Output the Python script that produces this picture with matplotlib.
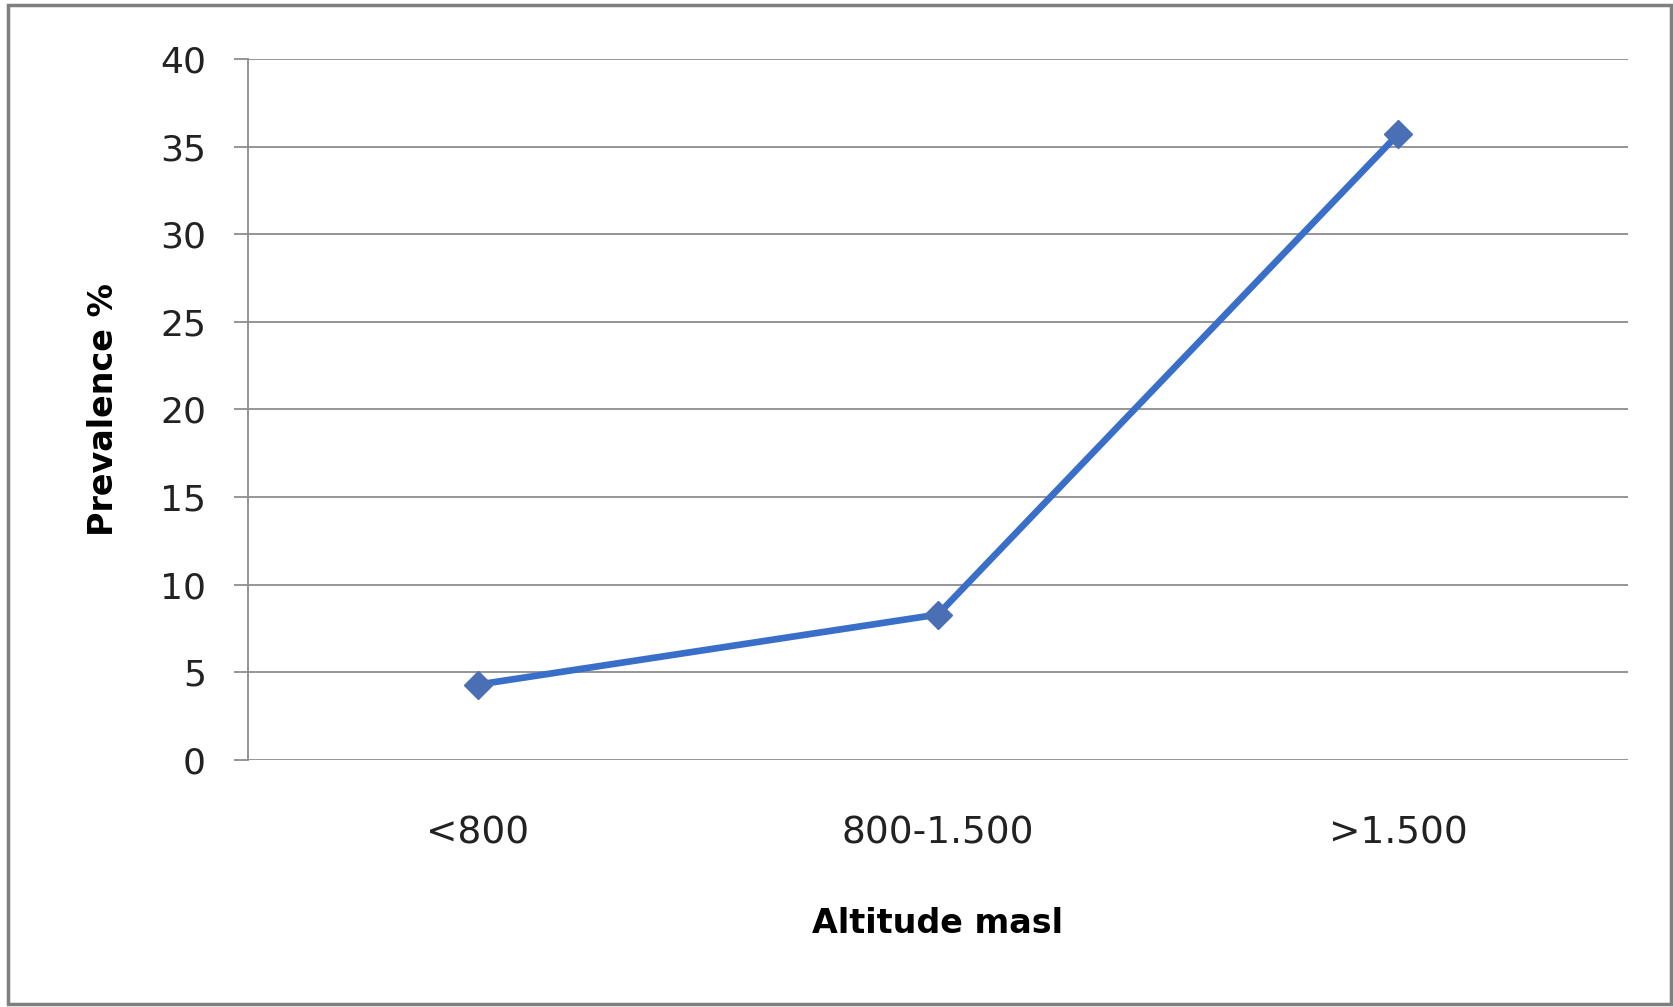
import matplotlib
matplotlib.use("Agg")
import matplotlib.pyplot as plt
from matplotlib.patches import Rectangle

# --- Data ---
altitude = ["<800", "800-1.500", ">1.500"]
prevalence = [4.3, 8.3, 35.7]
y_ticks = [0, 5, 10, 15, 20, 25, 30, 35, 40]

fig = plt.figure(figsize=(16.74, 10.07), dpi=100)
ax = fig.add_axes([0.148, 0.2453, 0.8245, 0.6961])

# grid lines
for t in y_ticks:
    ax.axhline(t, color="#8c8c8c", lw=1.3, zorder=1)

x = list(range(len(altitude)))
ax.plot(x, prevalence, color="#3a6fc9", lw=4.8, marker="D", markersize=14,
        markerfacecolor="#4a6fb5", markeredgecolor="#4a6fb5", zorder=3)

ax.set_xlim(-0.5, 2.5)
ax.set_ylim(0, 40)
ax.set_yticks(y_ticks)
ax.set_xticks(x)
ax.set_xticklabels(altitude)

for side in ["top", "right", "bottom"]:
    ax.spines[side].set_visible(False)
ax.spines["left"].set_color("#8c8c8c")
ax.spines["left"].set_linewidth(1.3)

ax.tick_params(axis="y", length=10, width=1.3, color="#8c8c8c", pad=20,
               labelsize=26, labelcolor="#222222")
ax.tick_params(axis="x", length=0, pad=40, labelsize=27, labelcolor="#222222")

ax.set_xlabel("Altitude masl", fontsize=24, fontweight="bold", labelpad=40)
ax.set_ylabel("Prevalence %", fontsize=24, fontweight="bold", labelpad=29)

# outer frame
fig.patches.append(Rectangle((0.005, 0.003), 0.993, 0.992, transform=fig.transFigure,
                             fill=False, edgecolor="#7f7f7f", lw=2.5))

fig.savefig("out.png", dpi=100)
